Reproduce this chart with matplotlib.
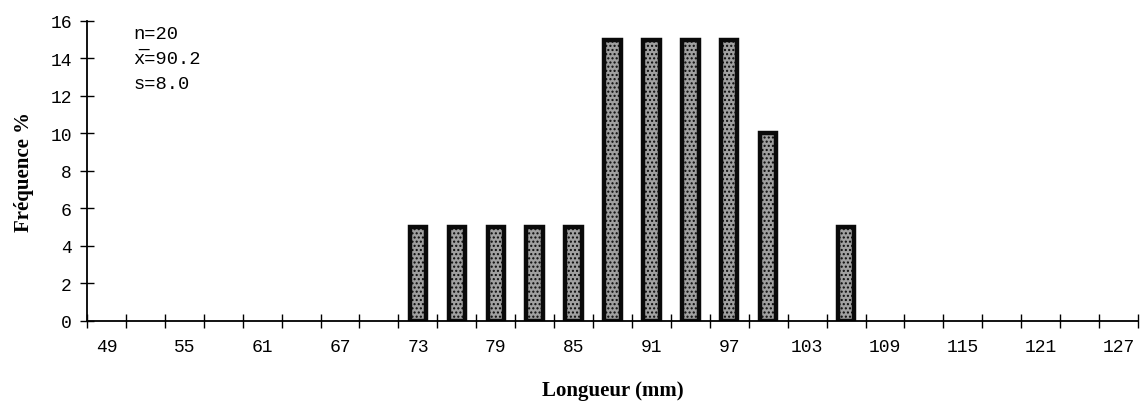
import numpy as np
import matplotlib.pyplot as plt

# length classes (mm) and frequency (%)
classes = list(range(49, 128, 3))
freq = [0, 0, 0, 0, 0, 0, 0, 0, 5, 5, 5, 5, 5, 15, 15, 15, 15, 10, 0, 5,
        0, 0, 0, 0, 0, 0, 0]
tick_labels = [str(c) if i % 2 == 0 else "" for i, c in enumerate(classes)]
stats = ["n=20", "x\u0305=90.2", "s=8.0"]

mono = ["Liberation Mono", "DejaVu Sans Mono"]
serif = "Liberation Serif"

fig = plt.figure(figsize=(11.4, 4.06), dpi=100)
ax = fig.add_axes([0.0763, 0.207, 0.922, 0.739])

x = np.arange(len(classes))
freq = np.array(freq)
nz = freq > 0
ax.bar(x[nz], freq[nz], width=0.42, color="#a0a0a0", edgecolor="#0a0a0a",
       linewidth=3.2, hatch="....", zorder=2)

ax.set_xlim(-0.5, len(classes) - 0.5)
ax.set_ylim(0, 16)
ax.set_yticks(range(0, 17, 2))
ax.set_xticks(np.arange(len(classes) + 1) - 0.5, minor=True)
ax.set_xticks(x)
ax.set_xticklabels(tick_labels, fontfamily=mono, fontsize=13)
ax.tick_params(axis="x", which="major", length=0, pad=12)
ax.tick_params(axis="x", which="minor", direction="inout", length=10, width=1)
ax.tick_params(axis="y", direction="inout", length=10, width=1, labelsize=13,
               pad=6)
for t in ax.get_yticklabels():
    t.set_fontfamily(mono)

ax.spines["top"].set_visible(False)
ax.spines["right"].set_visible(False)
ax.spines["left"].set_linewidth(1.3)
ax.spines["bottom"].set_linewidth(1.3)

ax.set_ylabel("Fréquence %", fontfamily=serif, fontweight="bold", fontsize=15,
              labelpad=12)
ax.set_xlabel("Longueur (mm)", fontfamily=serif, fontweight="bold", fontsize=15,
              labelpad=18)

for i, s in enumerate(stats):
    ax.text(0.044, 0.985 - i * 0.082, s, transform=ax.transAxes,
            fontfamily=mono, fontsize=13.5, va="top", ha="left")

fig.savefig("out.png", dpi=100)
